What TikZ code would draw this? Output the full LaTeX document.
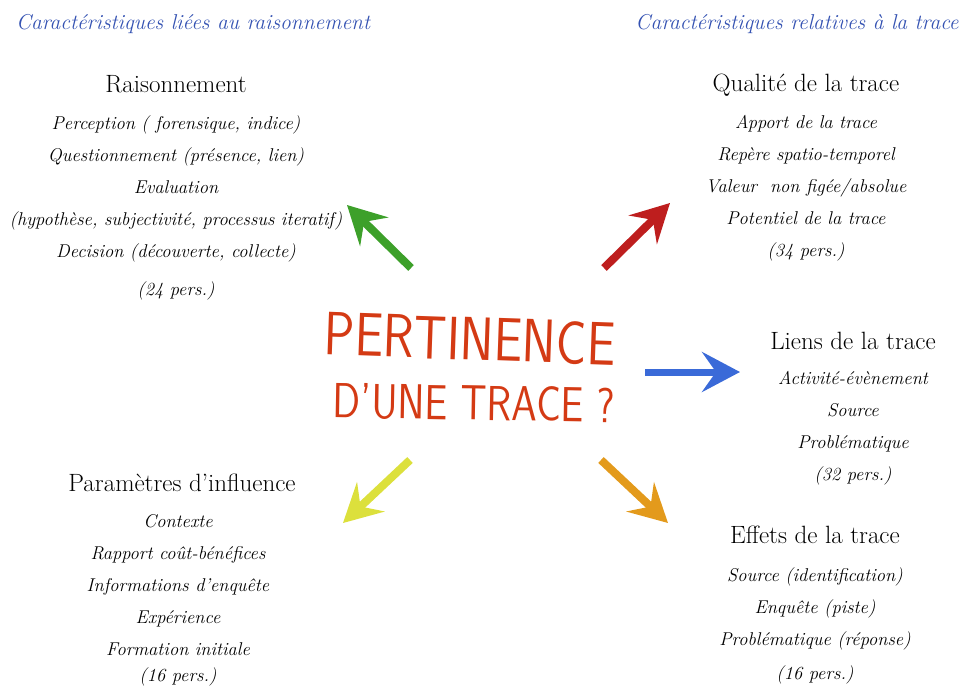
\documentclass[tikz,border=0pt]{standalone}
\usepackage{tikz}
\usetikzlibrary{arrows.meta,positioning}

\definecolor{sideblue}{RGB}{52,82,178}
\definecolor{titlered}{RGB}{212,58,20}
\definecolor{arrgreen}{RGB}{61,160,42}
\definecolor{arrred}{RGB}{190,30,30}
\definecolor{arrblue}{RGB}{58,106,216}
\definecolor{arryellow}{RGB}{220,224,60}
\definecolor{arrorange}{RGB}{227,154,28}

\begin{document}
\begin{tikzpicture}[x=1pt, y=-1pt,
  side/.style={font=\fontsize{21.5}{24}\selectfont\itshape, text=sideblue},
  head/.style={font=\fontsize{25}{28}\selectfont, inner sep=0pt},
  items/.style={font=\fontsize{18.5}{32}\selectfont\itshape, align=center, anchor=north, inner sep=0pt},
  question/.style={text=titlered, inner sep=0pt},
  pointer/.style={line width=8pt, -{Stealth[length=38pt, width=40pt, inset=14pt]}}]
  \useasboundingbox (0,0) rectangle (962,688);

  % the two column titles
  \node[side] (leftside) at (193,24) {Caractéristiques liées au raisonnement};
  \node[side] (rightside) at (797,24) {Caractéristiques relatives à la trace};

  % question in the middle
  \node[question, font=\sffamily\fontsize{51}{55}\selectfont, rotate=-2] (pert) at (470,339)
    {\scalebox{1}[1.2]{PERTINENCE}};
  \node[question, font=\sffamily\fontsize{41}{45}\selectfont, rotate=-1] (dune) at (474,403)
    {\scalebox{1}[1.2]{D’UNE TRACE ?}};

  % reasoning
  \node[head] (rais) at (176,84) {Raisonnement};
  \node[items] (raislist) at (176,115) {Perception ( forensique, indice)\\
    Questionnement (présence, lien)\\ Evaluation\\
    (hypothèse, subjectivité, processus iteratif)\\
    Decision (découverte, collecte)\\[6pt] (24 pers.)};

  % quality
  \node[head] (qual) at (806,85) {Qualité de la trace};
  \node[items] (quallist) at (806,115) {Apport de la trace\\ Repère spatio-temporel\\
    Valeur \ non figée/absolue\\ Potentiel de la trace\\ (34 pers.)};

  % links
  \node[head] (liens) at (853,341) {Liens de la trace};
  \node[items] (lienslist) at (853,371) {Activité-évènement\\ Source\\
    Problématique\\ (32 pers.)};

  % influence
  \node[head] (param) at (182,483) {Paramètres d’influence};
  \node[items] (paramlist) at (178,514) {Contexte\\ Rapport coût-bénéfices\\
    Informations d’enquête\\ Expérience\\ Formation initiale\\[-6pt] (16 pers.)};

  % effects
  \node[head] (effets) at (815,535) {Effets de la trace};
  \node[items] (effetslist) at (815,567) {Source (identification)\\ Enquête (piste)\\
    Problématique (réponse)\\[2pt] (16 pers.)};

  % arrows around the question
  \coordinate (nwfrom) at (411,268);  \coordinate (nwto) at (347,205);
  \coordinate (nefrom) at (604,268);  \coordinate (neto) at (670,203);
  \coordinate (efrom) at (645,372);   \coordinate (eto) at (740,372);
  \coordinate (swfrom) at (410,460);  \coordinate (swto) at (343,523);
  \coordinate (sefrom) at (601,460);  \coordinate (seto) at (668,523);
  \draw[pointer, arrgreen] (nwfrom) -- (nwto);
  \draw[pointer, arrred] (nefrom) -- (neto);
  \draw[pointer, arrblue, line width=7pt] (efrom) -- (eto);
  \draw[pointer, arryellow] (swfrom) -- (swto);
  \draw[pointer, arrorange] (sefrom) -- (seto);
\end{tikzpicture}
\end{document}
